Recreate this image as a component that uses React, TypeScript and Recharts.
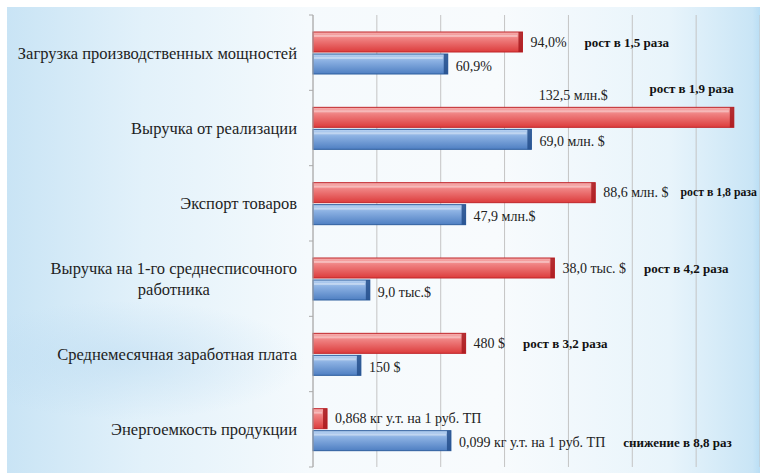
import React from "react";
import { BarChart, Bar, XAxis, YAxis, CartesianGrid, LabelList } from "recharts";

// Indicators (category axis), top to bottom.
const categories = [
  "Загрузка производственных мощностей",
  "Выручка от реализации",
  "Экспорт товаров",
  "Выручка на 1-го среднесписочного\nработника",
  "Среднемесячная заработная плата",
  "Энергоемкость продукции",
];

// Bar lengths as read against the vertical gridlines (one grid step = 1).
const newValues = [3.28, 6.59, 4.42, 3.78, 2.39, 0.22];
const oldValues = [2.11, 3.42, 2.39, 0.89, 0.75, 2.16];

// Texts printed next to the bars.
const newLabels = ["94,0%", "132,5 млн.$", "88,6 млн. $", "38,0 тыс. $", "480 $", "0,868 кг у.т. на 1 руб. ТП"];
const oldLabels = ["60,9%", "69,0 млн. $", "47,9 млн.$", "9,0 тыс.$", "150 $", "0,099 кг у.т. на 1 руб. ТП"];

// Bold change notes, attached to one bar of each pair.
const newNotes = ["рост в 1,5 раза", "рост в 1,9 раза", "рост в 1,8 раза", "рост в 4,2 раза", "рост в 3,2 раза", ""];
const oldNotes = ["", "", "", "", "", "снижение в 8,8 раз"];

const gridTicks = [0, 1, 2, 3, 4, 5, 6, 7];

const rows = categories.map((name, i) => ({
  name,
  newValue: newValues[i],
  oldValue: oldValues[i],
  newLabel: newLabels[i],
  oldLabel: oldLabels[i],
}));

const W = 760;
const H = 474;
const AXIS_X = 313;
const TOP = 15;
const BOTTOM = 7;
const BAND = (H - TOP - BOTTOM) / categories.length;
const SERIF = "Liberation Serif, Times New Roman, DejaVu Serif, serif";
const CAT_SIZE = 16.5;
const VALUE_SIZE = 14;
const NOTE_SIZE = 13;

let ctx: CanvasRenderingContext2D | null = null;
const textWidth = (text: string, font: string) => {
  if (!ctx) ctx = document.createElement("canvas").getContext("2d");
  if (!ctx) return text.length * 7;
  ctx.font = font;
  return ctx.measureText(text).width;
};

const CategoryTick = (props: any) => {
  const { y, payload, index } = props;
  const lines = String(payload.value).split("\n");
  const font = `${CAT_SIZE}px ${SERIF}`;
  const maxW = Math.max(...lines.map((l) => textWidth(l, font)));
  const cx = AXIS_X - 16 - maxW / 2;
  const lh = 21;
  const y0 = y - ((lines.length - 1) * lh) / 2;
  return (
    <g>
      <line x1={AXIS_X - 4} x2={AXIS_X} y1={y - BAND / 2} y2={y - BAND / 2} stroke="#aaa" />
      {index === categories.length - 1 && (
        <line x1={AXIS_X - 4} x2={AXIS_X} y1={y + BAND / 2} y2={y + BAND / 2} stroke="#aaa" />
      )}
      <text x={cx} y={y0} textAnchor="middle" dominantBaseline="central" style={{ fontFamily: SERIF, fontSize: CAT_SIZE }} fill="#1e1e1e">
        {lines.map((l, i) => (
          <tspan key={i} x={cx} dy={i === 0 ? 0 : lh}>
            {l}
          </tspan>
        ))}
      </text>
    </g>
  );
};

const makeShape = (grad: string, edge: string, dark: string) => (props: any) => {
  const { x, y, width, height } = props;
  if (!width || width <= 0) return <g />;
  return (
    <g>
      <rect x={x} y={y} width={width} height={height} fill={`url(#${grad})`} stroke={edge} strokeWidth={1} />
      <rect x={x + 1} y={y + 3} width={Math.max(width - 6, 0)} height={2} fill="#fff" opacity={0.35} />
      <rect x={x + width - 4} y={y} width={4} height={height} fill={dark} opacity={0.85} />
    </g>
  );
};

const makeLabel = (notes: string[], dyShift: number) => (props: any) => {
  const { x, y, width, height, value, index } = props;
  const end = x + width;
  const note = notes[index] || "";
  const valueFont = `${VALUE_SIZE}px ${SERIF}`;
  const noteFont = `bold ${NOTE_SIZE}px ${SERIF}`;
  const valueStyle = { fontFamily: SERIF, fontSize: VALUE_SIZE };
  if (end > W - 60) {
    // bar runs to the edge: texts go above it
    const ly = y - 12;
    return (
      <g>
        <text x={end - 195} y={ly} dominantBaseline="central" style={valueStyle} fill="#222">
          {value}
        </text>
        {note && (
          <text x={end} y={ly - 7} textAnchor="end" dominantBaseline="central" style={{ fontFamily: SERIF, fontSize: NOTE_SIZE, fontWeight: 700 }} fill="#111">
            {note}
          </text>
        )}
      </g>
    );
  }
  const lx = end + 8;
  const ly = y + height / 2 + dyShift;
  const vw = textWidth(String(value), valueFont);
  const nw = textWidth(note, noteFont);
  let nx = lx + vw + 18;
  let size = NOTE_SIZE;
  if (nx + nw > W - 3) {
    // squeeze the note so it still fits before the right edge
    nx = Math.max(lx + vw + 12, W - 3 - nw);
    size = Math.min(NOTE_SIZE, (NOTE_SIZE * (W - 3 - nx)) / nw);
  }
  return (
    <g>
      <text x={lx} y={ly} dominantBaseline="central" style={valueStyle} fill="#222">
        {value}
      </text>
      {note && (
        <text x={nx} y={ly} dominantBaseline="central" style={{ fontFamily: SERIF, fontSize: size, fontWeight: 700 }} fill="#111">
          {note}
        </text>
      )}
    </g>
  );
};

export default function App() {
  return (
    <div style={{ position: "fixed", left: 0, top: 0, width: W, height: H, background: "#fff", overflow: "hidden" }}>
      <div
        style={{
          position: "absolute",
          left: 7,
          top: 7,
          width: W - 7,
          height: H - 8,
          background:
            "linear-gradient(90deg, #c9e4f5 0%, #e2f1fa 18%, #f5fafd 40%, #f8fbfd 65%, #e8f4fb 88%, #c9e5f6 99%, #b9def5 100%)",
        }}
      />
      <div
        style={{
          position: "absolute",
          left: 7,
          top: 300,
          width: 300,
          height: 120,
          background: "radial-gradient(ellipse at 40% 50%, rgba(180,215,240,0.45), rgba(255,255,255,0) 70%)",
        }}
      />
      <div style={{ position: "absolute", left: 0, top: 0 }}>
        <BarChart
          width={W}
          height={H}
          data={rows}
          layout="vertical"
          margin={{ top: TOP, right: 0, bottom: BOTTOM, left: 0 }}
          barSize={20}
          barGap={2}
        >
          <defs>
            <linearGradient id="gRed" x1="0" y1="0" x2="0" y2="1">
              <stop offset="0%" stopColor="#f6b0b0" />
              <stop offset="35%" stopColor="#ef7f7f" />
              <stop offset="100%" stopColor="#dc3c3c" />
            </linearGradient>
            <linearGradient id="gBlue" x1="0" y1="0" x2="0" y2="1">
              <stop offset="0%" stopColor="#b9d3f2" />
              <stop offset="35%" stopColor="#8ab0e2" />
              <stop offset="100%" stopColor="#4f7fc2" />
            </linearGradient>
          </defs>
          <CartesianGrid horizontal={false} stroke="#c4c4c4" />
          <XAxis type="number" domain={[0, 7]} ticks={gridTicks} hide />
          <YAxis
            type="category"
            dataKey="name"
            width={AXIS_X}
            axisLine={{ stroke: "#aaa" }}
            tickLine={false}
            tick={<CategoryTick />}
            interval={0}
          />
          <Bar dataKey="newValue" isAnimationActive={false} shape={makeShape("gRed", "#c0262b", "#a81a1f")}>
            <LabelList dataKey="newLabel" content={makeLabel(newNotes, 0)} />
          </Bar>
          <Bar dataKey="oldValue" isAnimationActive={false} shape={makeShape("gBlue", "#2e5e9e", "#244f8c")}>
            <LabelList dataKey="oldLabel" content={makeLabel(oldNotes, 2)} />
          </Bar>
        </BarChart>
      </div>
    </div>
  );
}
